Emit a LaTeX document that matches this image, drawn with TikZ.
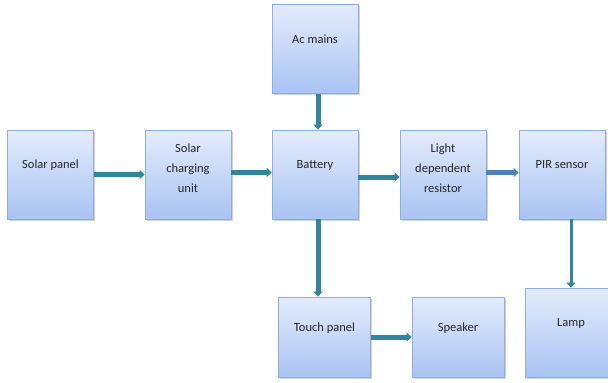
\documentclass[tikz,border=0pt]{standalone}
\usepackage{fontspec}
\setmainfont{Carlito}
\usepackage{tikz}
\usetikzlibrary{positioning, arrows.meta, shadows}
\usepackage{xcolor}
\definecolor{BoxTop}{HTML}{E3ECFC}
\definecolor{BoxBottom}{HTML}{A9C3F3}
\definecolor{BoxLine}{HTML}{8DAEDF}
\definecolor{Teal}{HTML}{31849B}
\definecolor{Steel}{HTML}{4F81BD}

\begin{document}
\begin{tikzpicture}[
    x=1pt, y=-1pt,
    every node/.style={font=\fontsize{12.5}{20}\selectfont, text=black!85},
    blk/.style={draw=BoxLine, line width=0.8pt, top color=BoxTop, bottom color=BoxBottom,
        minimum width=86pt, minimum height=89pt, align=center,
        drop shadow={shadow xshift=1.5pt, shadow yshift=-1.5pt, fill=black!35}},
    oneline/.style={text height=9pt, text depth=21pt},
    threeline/.style={text depth=13pt},
    low/.style={minimum width=92pt, minimum height=80pt},
    flow/.style={-{Triangle[length=5pt, width=9pt]}, line width=5pt, Teal}
]
\useasboundingbox (0,0) rectangle (608,383);

% === Top row ===
\node[blk, oneline] (acm) at (315, 49) {Ac mains};

% === Middle row ===
\node[blk, oneline] (spanel) at (50.5, 174.5) {Solar panel};
\node[blk, threeline] (scharge) at (188, 174.5) {Solar\\charging\\unit};
\node[blk, oneline] (batt) at (315, 174.5) {Battery};
\node[blk, threeline] (ldr) at (443, 174.5) {Light\\dependent\\resistor};
\node[blk, oneline] (pir) at (562, 174.5) {PIR sensor};

% === Bottom row ===
\node[blk, oneline, low] (touch) at (324.5, 337) {Touch panel};
\node[blk, oneline, low] (spk) at (458, 337) {Speaker};
\node[blk, oneline, minimum width=92pt] (lamp) at (571, 332.5) {Lamp};

% Arrows
\draw[flow] (spanel) -- (scharge);
\draw[flow] ([yshift=2pt]scharge.east) -- ([yshift=2pt]batt.west);
\draw[flow] ([xshift=3pt]acm.south) -- ([xshift=3pt]batt.north);
\draw[flow] ([yshift=-2.5pt]batt.east) -- ([yshift=-2.5pt]ldr.west);
\draw[flow, Steel] ([yshift=2pt]ldr.east) -- ([yshift=2pt]pir.west);
\draw[flow] ([xshift=3pt]batt.south) -- ([xshift=3pt]batt.south |- touch.north);
\draw[flow, line width=3pt] (pir.south -| lamp.north) -- (lamp.north);
\draw[flow] (touch) -- (spk);

\end{tikzpicture}
\end{document}
